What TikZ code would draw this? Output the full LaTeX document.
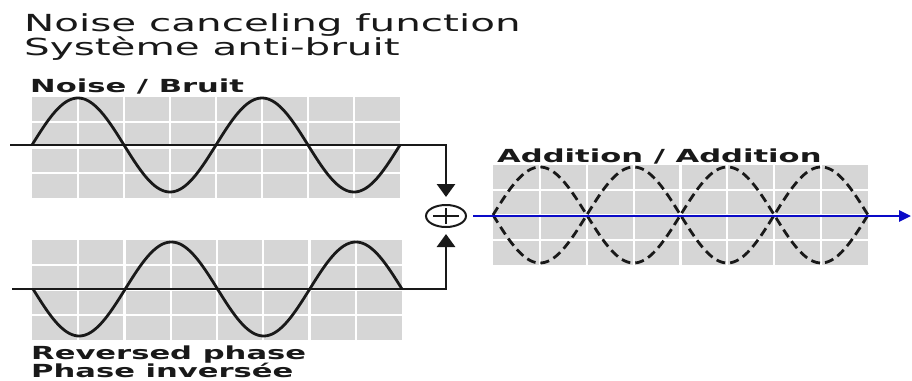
\documentclass[tikz,border=0pt]{standalone}
\usepackage{fontspec}
\usetikzlibrary{arrows.meta,shapes.geometric}
\newfontfamily\titlefont[FakeStretch=1.72]{DejaVu Sans}
\newfontfamily\labelfont[FakeStretch=1.70]{DejaVu Sans}
\definecolor{gridgray}{RGB}{214,214,214}
\definecolor{ink}{RGB}{25,25,25}
\definecolor{outblue}{RGB}{10,10,200}
\newcommand{\mygrid}[4]{%
  \fill[gridgray] (#1,#2) rectangle (#3,#4);
  \foreach \i in {1,...,7} \draw[gridline] ({#1+\i*(#3-#1)/8},#2) -- ({#1+\i*(#3-#1)/8},#4);
  \foreach \j in {1,2,3} \draw[gridline] (#1,{#2+\j*(#4-#2)/4}) -- (#3,{#2+\j*(#4-#2)/4});
}
\tikzset{
  gridline/.style={white, line width=2.2pt},
  wave/.style={ink, line width=2.8pt, line join=round},
  axisline/.style={ink, line width=2.8pt},
  feed/.style={axisline, -{Triangle[length=13pt,width=18pt]}},
  dashwave/.style={ink, line width=2.8pt, dash pattern=on 9pt off 5pt},
  blueline/.style={outblue, line width=2.8pt, -{Triangle[length=12pt,width=11pt]}},
  sumnode/.style={ellipse, draw=ink, line width=2pt, minimum width=40pt, minimum height=22pt, inner sep=0pt,
    path picture={\draw[ink, line width=2pt] ([xshift=-13pt]path picture bounding box.center) -- ([xshift=13pt]path picture bounding box.center);
                  \draw[ink, line width=2pt] ([yshift=-8pt]path picture bounding box.center) -- ([yshift=8pt]path picture bounding box.center);}},
  titletext/.style={anchor=base west, inner sep=0pt, text=ink, font=\titlefont\fontsize{23.5}{23.5}\selectfont},
  labeltext/.style={anchor=base west, inner sep=0pt, text=ink, font=\labelfont\bfseries\fontsize{18}{18}\selectfont}
}
\begin{document}
\begin{tikzpicture}[x=1pt,y=-1pt]
\useasboundingbox (0,0) rectangle (912,380);
\fill[white] (0,0) rectangle (912,380);

% titles
\node[titletext] (t1) at (24,31) {Noise canceling function};
\node[titletext] (t2) at (24,55) {Système anti-bruit};

% grids
\mygrid{32}{97}{400}{198}
\mygrid{32}{240}{402}{340}
\mygrid{493}{165}{868}{265}

% labels
\node[labeltext] (lnoise) at (30,92) {Noise / Bruit};
\node[labeltext] (ladd) at (497,162) {Addition / Addition};
\node[labeltext] (lrev1) at (31,359) {Reversed phase};
\node[labeltext] (lrev2) at (31,377) {Phase inversée};

% waves
\draw[wave] plot[domain=32:400,samples=160,smooth] (\x,{145-47*sin((\x-32)/184*360)});
\draw[wave] plot[domain=33:402,samples=160,smooth] (\x,{289+47*sin((\x-33)/184.5*360)});
\draw[dashwave] plot[domain=493:868,samples=160,smooth] (\x,{215-48*sin((\x-493)/187.5*360)});
\draw[dashwave] plot[domain=493:868,samples=160,smooth] (\x,{215+48*sin((\x-493)/187.5*360)});

% summing junction and connectors
\node[sumnode] (sum) at (446,216) {};
\coordinate (ta) at (10,145);
\coordinate (ba) at (12,289);
\coordinate (outend) at (911,216);
\draw[feed, shorten >=7pt] (ta) -| (sum.north);
\draw[feed, shorten >=6pt] (ba) -| (sum.south);
\draw[blueline, shorten <=6pt] (sum.east) -- (outend);
\end{tikzpicture}
\end{document}
